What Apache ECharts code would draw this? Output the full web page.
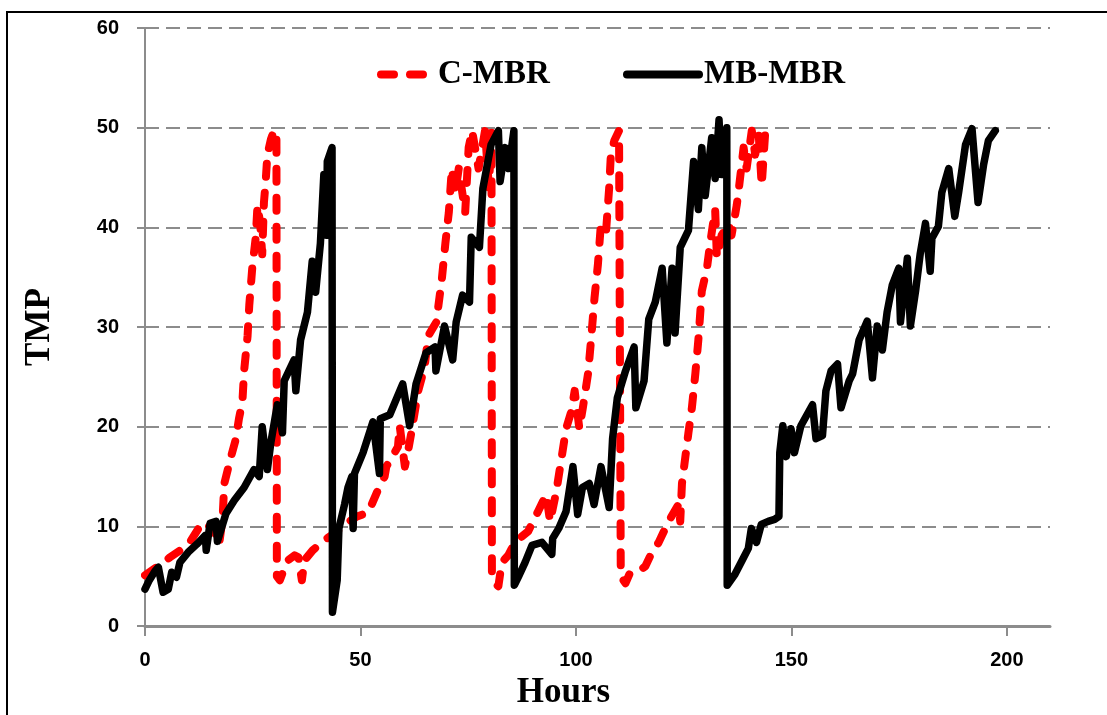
<!DOCTYPE html>
<html>
<head>
<meta charset="utf-8">
<script src="https://cdn.jsdelivr.net/npm/echarts@6/dist/echarts.min.js"></script>
<style>
  html, body { margin: 0; padding: 0; background: #fff; }
  #chart { width: 1107px; height: 715px; }
</style>
</head>
<body>
<div id="chart"></div>
<script>
// Transmembrane pressure over operating time for two reactor types
const cmbrHours = [0, 2.7, 5.8, 8.5, 10.4, 12.7, 13.5, 15.5, 17.2, 18.0, 18.4, 19.9, 21.1, 21.8, 22.6, 23.0, 23.8, 24.2, 24.9, 25.7, 26.1, 26.7, 27.2, 27.6, 28.0, 28.4, 29.2, 29.9, 30.5,
  30.6, 31.3, 32.4, 33.2, 34.7, 35.6, 36.4, 37.0, 38.9, 41.6, 44.6, 47.0, 49.2, 51.8, 54.0, 55.6, 56.0, 58.7, 59.1, 60.3, 61.1, 61.8, 63.4, 64.9, 65.7, 67.6, 68.9, 69.7, 70.5, 71.2, 72.0, 72.8, 74.3, 75.1, 75.9, 77.4, 78.9, 79.3, 79.8, 80.4,
  80.5, 81.2, 82.0, 82.8, 84.3, 85.8, 88.9, 91.2, 93.1, 94.0, 95.4, 96.6, 97.7, 98.9, 99.7, 100.8, 101.6, 102.8, 103.5, 104.3, 105.1, 105.8, 107.0, 107.7, 108.1, 108.9, 110.0,
  110.4, 111.5, 112.4, 114.0, 116.1, 117.3, 119.2, 121.5, 123.8, 124.2, 124.6, 126.1, 126.9, 127.7, 128.4, 129.2, 130.4, 131.1, 132.3, 132.7, 133.8, 135.4, 136.1, 137.3, 137.7, 138.9, 139.6, 140.8, 141.6, 142.4, 143.1, 143.9, 145.1];
const cmbrTmp = [5.1, 5.9, 6.9, 7.7, 8.4, 10.0, 9.6, 10.2, 8.2, 10.8, 14.3, 16.9, 18.8, 20.8, 22.5, 25.6, 29.1, 32.2, 36.0, 39.0, 42.2, 40.5, 37.3, 42.5, 44.6, 47.3, 48.8, 49.7, 49.6,
  5.0, 4.6, 5.9, 6.6, 7.1, 6.9, 4.6, 6.6, 7.6, 8.6, 9.5, 10.4, 11.0, 11.4, 13.6, 15.0, 16.0, 18.0, 20.1, 16.0, 17.7, 19.4, 23.6, 26.0, 29.1, 30.5, 34.9, 38.4, 41.5, 45.9, 43.5, 45.9, 41.5, 48.0, 49.7, 45.9, 49.7, 49.7, 44.0, 49.5,
  5.3, 4.3, 4.0, 6.4, 7.1, 8.4, 9.5, 11.5, 13.2, 10.5, 13.4, 16.7, 19.8, 21.5, 23.6, 19.8, 21.9, 25.3, 28.7, 32.9, 36.3, 40.4, 39.7, 43.9, 47.3, 48.7, 49.7,
  5.0, 4.3, 5.2, 5.3, 6.0, 7.1, 8.4, 10.5, 12.2, 10.5, 14.3, 19.4, 21.9, 25.3, 28.7, 33.6, 35.9, 38.3, 41.8, 37.0, 39.2, 40.4, 39.2, 42.2, 43.5, 48.0, 45.9, 49.7, 47.3, 49.4, 44.2, 49.4, 50.2];

const mbmbrHours = [0, 1.0, 2.3, 3.1, 4.2, 5.4, 6.2, 7.3, 8.1, 10.0, 12.0, 14.0, 14.2, 15.1, 16.5, 16.8, 18.8, 20.7, 23.0, 25.3, 26.5, 27.2, 28.4, 29.2, 30.7, 31.9, 32.3, 34.6, 35.0, 36.1, 37.7, 38.8, 39.6, 40.7, 41.5, 42.1, 42.3, 43.4,
  43.5, 44.6, 45.0, 46.3, 47.1, 48.0, 48.3, 48.6, 50.6, 52.9, 54.4, 54.6, 56.8, 59.8, 61.4, 62.9, 65.2, 67.3, 67.5, 69.5, 71.4, 72.2, 73.7, 75.3, 75.7, 77.6, 78.4, 80.3, 82.0, 82.4, 83.6, 84.4, 85.6,
  85.7, 86.7, 88.2, 89.8, 92.1, 94.4, 94.6, 96.0, 97.7, 99.3, 100.4, 101.5, 103.1, 104.2, 105.8, 107.7, 108.5, 109.6, 111.5, 113.5, 113.9, 115.8, 116.9, 118.4, 120.0, 121.1, 122.3, 123.0, 124.2, 126.1, 127.3, 128.4, 129.2, 130.0, 131.5, 132.3, 133.2, 133.8, 135.0,
  135.1, 136.9, 138.7, 140.0, 140.7, 141.9, 143.0, 144.6, 146.1, 147.1, 147.3, 148.0, 148.8, 149.9, 150.7, 152.2, 154.9, 155.7, 157.2, 158.0, 159.2, 160.7, 161.5, 163.4, 164.2, 165.7, 167.6, 168.8, 169.9, 171.1, 172.2, 173.4, 174.9, 175.3, 176.9, 177.6, 178.8, 179.9, 181.1, 182.2, 182.6, 184.1, 184.9, 186.5, 187.9, 188.8, 190.4, 191.9, 193.3, 194.6, 195.7, 197.3];
const mbmbrTmp = [3.7, 4.6, 5.5, 5.9, 3.4, 3.7, 5.4, 4.9, 6.4, 7.4, 8.2, 9.1, 7.6, 10.3, 10.5, 8.5, 11.3, 12.6, 13.9, 15.7, 15.0, 20.0, 15.7, 18.4, 22.2, 19.4, 24.6, 26.7, 23.6, 28.7, 31.5, 36.6, 33.5, 38.4, 45.3, 39.2, 46.6, 48.0,
  1.4, 4.6, 9.8, 12.2, 13.9, 15.0, 9.8, 15.3, 17.4, 20.5, 15.3, 20.8, 21.2, 24.3, 20.1, 24.3, 27.4, 28.0, 25.6, 30.1, 26.7, 30.5, 33.2, 32.5, 39.0, 38.0, 43.9, 48.3, 49.7, 44.6, 48.0, 45.9, 49.7,
  4.1, 5.0, 6.4, 8.1, 8.4, 7.2, 8.8, 9.8, 11.5, 16.0, 11.2, 13.9, 14.3, 12.2, 16.0, 11.9, 18.8, 22.9, 25.6, 28.0, 21.9, 24.6, 30.8, 32.5, 35.9, 28.4, 35.9, 29.4, 38.0, 39.7, 46.6, 41.8, 48.0, 43.2, 49.0, 44.9, 50.8, 45.3, 50.0,
  4.1, 5.2, 6.7, 7.8, 9.8, 8.4, 10.2, 10.5, 10.7, 11.0, 17.4, 20.1, 17.0, 19.8, 17.4, 20.1, 22.2, 18.8, 19.1, 23.6, 25.6, 26.3, 21.9, 24.6, 25.3, 28.7, 30.6, 24.9, 30.1, 27.7, 31.5, 34.2, 35.9, 30.5, 36.9, 30.1, 33.6, 37.4, 40.4, 35.6, 38.9, 40.1, 43.5, 45.9, 41.1, 43.5, 48.3, 49.9, 42.5, 46.3, 48.7, 49.7];

const xTicks = [0, 50, 100, 150, 200];
const seriesNames = ['C-MBR', 'MB-MBR'];

const pairs = (xs, ys) => xs.map((x, i) => [x, ys[i]]);

const axisGray = '#8c8c8c';
const serif = '"Liberation Serif", "Times New Roman", serif';
const sans = '"Liberation Sans", Arial, sans-serif';

const chart = echarts.init(document.getElementById('chart'), null, { renderer: 'canvas' });

chart.setOption({
  animation: false,
  backgroundColor: '#fff',
  graphic: [{
    type: 'rect',
    shape: { x: 7, y: 12, width: 1120, height: 730 },
    style: { fill: 'none', stroke: '#000', lineWidth: 2 },
    silent: true,
    z: 0
  }],
  legend: [
    {
      data: [seriesNames[0]],
      left: 372, top: 53,
      itemWidth: 44, itemHeight: 14,
      itemStyle: { opacity: 0 },
      lineStyle: { width: 8, cap: 'round' },
      textStyle: { fontFamily: serif, fontWeight: 'bold', fontSize: 33, color: '#000', padding: [0, 0, 0, 8] }
    },
    {
      data: [seriesNames[1]],
      left: 618, top: 53,
      itemWidth: 72, itemHeight: 14,
      itemStyle: { opacity: 0 },
      lineStyle: { width: 8, cap: 'round' },
      textStyle: { fontFamily: serif, fontWeight: 'bold', fontSize: 33, color: '#000', padding: [0, 0, 0, 0] }
    }
  ],
  grid: { left: 145, right: 57, top: 28, bottom: 86, containLabel: false },
  xAxis: {
    type: 'value',
    min: 0, max: 210, interval: 50,
    name: 'Hours',
    nameLocation: 'middle',
    nameGap: 42,
    nameTextStyle: { fontFamily: serif, fontWeight: 'bold', fontSize: 35, color: '#000', padding: [0, 68, 0, 0] },
    axisLine: { show: true, lineStyle: { color: axisGray, width: 3 } },
    axisTick: { show: true, inside: false, length: 10, customValues: xTicks, lineStyle: { color: axisGray, width: 2 } },
    axisLabel: { customValues: xTicks, margin: 24, fontFamily: sans, fontWeight: 'bold', fontSize: 20, color: '#000' },
    splitLine: { show: false }
  },
  yAxis: {
    type: 'value',
    min: 0, max: 60, interval: 10,
    name: 'TMP',
    nameLocation: 'middle',
    nameRotate: 90,
    nameGap: 88,
    nameTextStyle: { fontFamily: serif, fontWeight: 'bold', fontSize: 35, color: '#000' },
    axisLine: { show: true, lineStyle: { color: axisGray, width: 2 } },
    axisTick: { show: true, inside: false, length: 8, lineStyle: { color: axisGray, width: 2 } },
    axisLabel: { margin: 26, fontFamily: sans, fontWeight: 'bold', fontSize: 20, color: '#000' },
    splitLine: { show: true, lineStyle: { color: axisGray, width: 2, type: [14, 7] } }
  },
  series: [
    {
      name: seriesNames[0],
      type: 'line',
      data: pairs(cmbrHours, cmbrTmp),
      symbol: 'none',
      showSymbol: false,
      color: '#ff0000',
      lineStyle: { color: '#ff0000', width: 8, type: [13, 16], cap: 'round', join: 'round' },
      z: 2
    },
    {
      name: seriesNames[1],
      type: 'line',
      data: pairs(mbmbrHours, mbmbrTmp),
      symbol: 'none',
      showSymbol: false,
      color: '#000000',
      lineStyle: { color: '#000000', width: 7.5, cap: 'round', join: 'round' },
      z: 3
    }
  ]
});
</script>
</body>
</html>
